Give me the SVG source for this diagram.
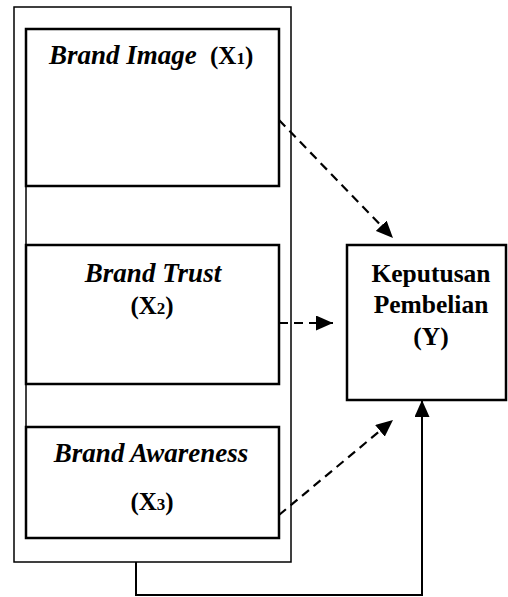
<svg xmlns="http://www.w3.org/2000/svg" width="508" height="597" viewBox="0 0 508 597">
<style>
.frame{fill:none;stroke:#000;stroke-width:1.5}
.box{fill:#fff;stroke:#000;stroke-width:2.5}
.dash{fill:none;stroke:#000;stroke-width:2.2;stroke-dasharray:9 6}
.solid{fill:none;stroke:#000;stroke-width:2}
.t{font-family:"Liberation Serif","Times New Roman",serif;font-weight:bold;fill:#000}
.i{font-style:italic;font-size:27px}
.x{font-size:25px}
.y{font-size:25.5px;text-anchor:middle}
.c{text-anchor:middle}
</style>
<defs>
<marker id="ah" viewBox="0 0 17 15" refX="17" refY="7.5" markerUnits="userSpaceOnUse" markerWidth="17" markerHeight="15" orient="auto">
<path d="M0,0 L17,7.5 L0,15 z" fill="#000"/>
</marker>
</defs>
<rect class="frame" x="14" y="7" width="277" height="555"/>
<line class="frame" x1="26" y1="29" x2="26" y2="538"/>
<g id="x1">
<rect class="box" x="26" y="29" width="253" height="157"/>
<text class="t i" x="49" y="64">Brand Image</text>
<text class="t x" x="210" y="64">(X<tspan font-size="17">1</tspan>)</text>
</g>
<g id="x2">
<rect class="box" x="26" y="245" width="253" height="139"/>
<text class="t i c" x="153" y="282">Brand Trust</text>
<text class="t x c" x="152" y="314">(X<tspan font-size="17">2</tspan>)</text>
</g>
<g id="x3">
<rect class="box" x="26" y="427" width="253" height="111"/>
<text class="t i c" x="151" y="462">Brand Awareness</text>
<text class="t x c" x="152" y="510">(X<tspan font-size="17">3</tspan>)</text>
</g>
<g id="y">
<rect class="box" x="347" y="245" width="159" height="155"/>
<text class="t y" x="431" y="282">Keputusan</text>
<text class="t y" x="431" y="313">Pembelian</text>
<text class="t y" x="431" y="345">(Y)</text>
</g>
<g id="connectors">
<line class="dash" x1="279" y1="120" x2="393" y2="238" marker-end="url(#ah)"/>
<line class="dash" x1="279" y1="323" x2="333" y2="323" marker-end="url(#ah)"/>
<line class="dash" x1="279" y1="515" x2="393" y2="420" marker-end="url(#ah)"/>
<polyline class="solid" points="136,562 136,595 422,595 422,400" marker-end="url(#ah)"/>
</g>
</svg>
